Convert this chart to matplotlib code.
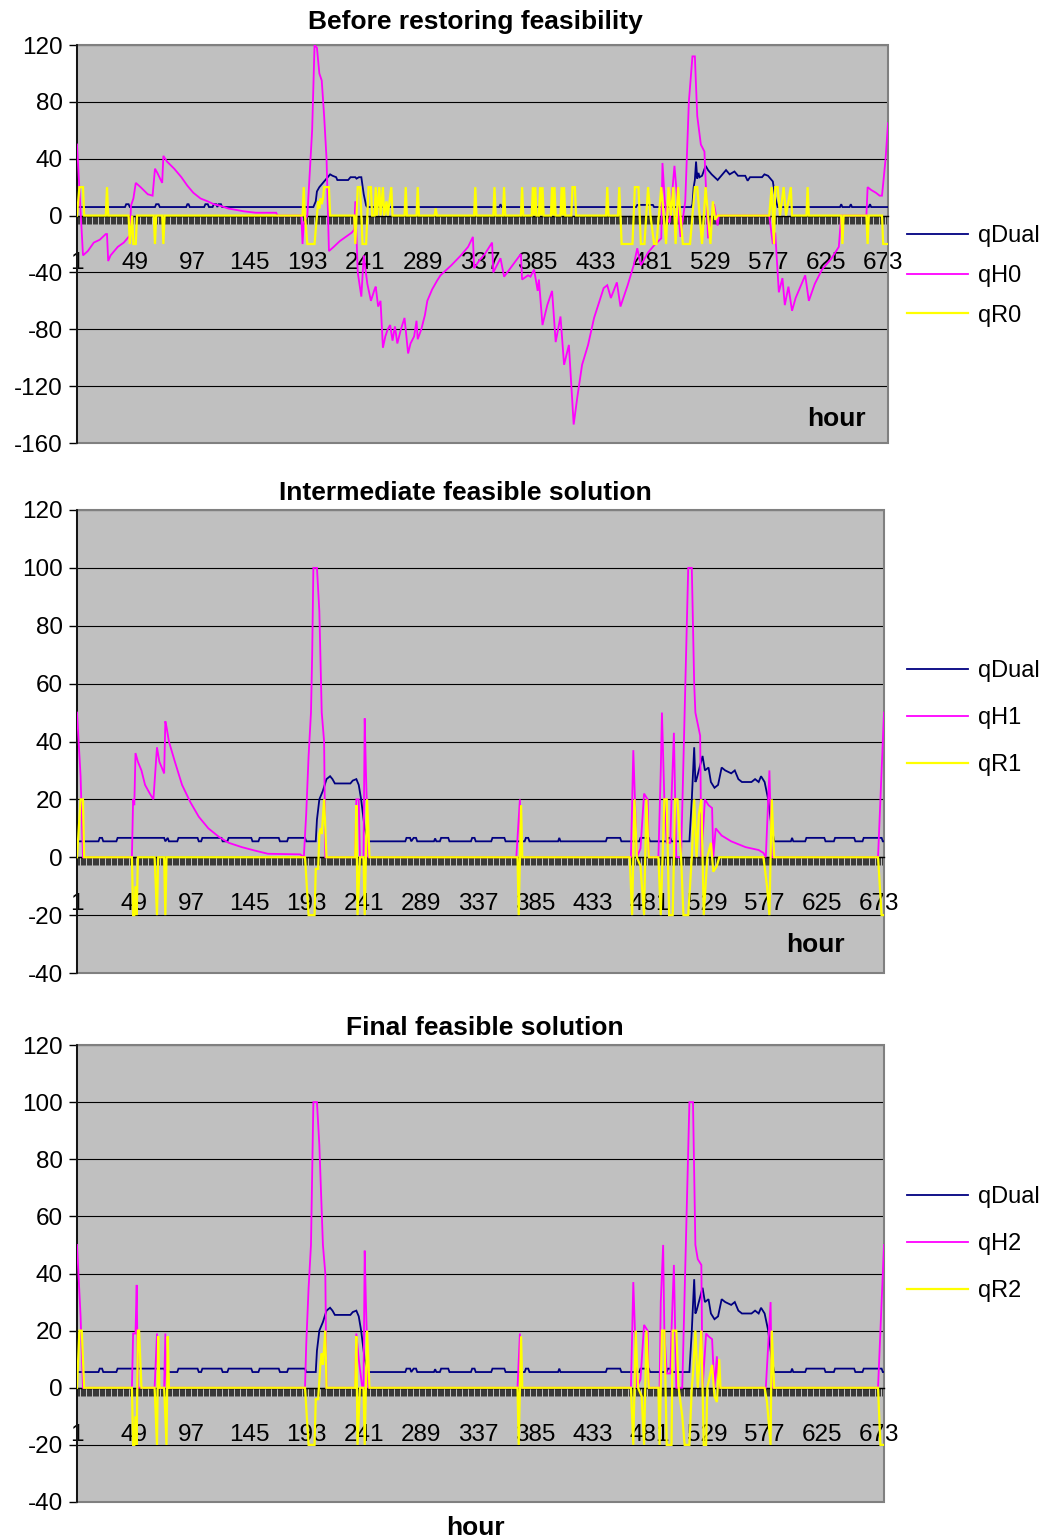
import numpy as np
import matplotlib.pyplot as plt
from matplotlib.patches import Rectangle
from matplotlib.ticker import MultipleLocator

plt.rcParams['font.family'] = ['Liberation Sans', 'DejaVu Sans']
plt.rcParams['axes.unicode_minus'] = False

# hour tick labels on the category axis
hour_ticks = [1, 49, 97, 145, 193, 241, 289, 337, 385, 433, 481, 529, 577, 625, 673]
hour_labels = [str(h) for h in hour_ticks]

titles = ['Before restoring feasibility', 'Intermediate feasible solution', 'Final feasible solution']
legend_names = [['qDual', 'qH0', 'qR0'], ['qDual', 'qH1', 'qR1'], ['qDual', 'qH2', 'qR2']]

# (hour, value) breakpoints
dual1 = [(1, 6), (41, 6), (42, 8), (44, 8), (45, 6), (66, 6), (67, 8), (69, 8), (70, 6), (92, 6), (93, 8),
         (94, 8), (95, 6), (107, 6), (108, 8), (110, 8), (111, 6), (114, 6), (115, 8), (117, 8), (118, 6),
         (119, 8), (121, 8), (122, 6), (198, 6), (200, 10), (201, 17), (203, 20), (206, 23), (208, 25),
         (210, 27), (212, 29), (214, 28), (217, 27), (218, 25), (227, 25), (229, 27), (233, 27), (234, 26),
         (236, 27), (238, 27), (240, 15), (242, 7), (243, 6), (353, 6), (354, 8), (355, 6), (467, 6),
         (468, 7.5), (481, 7.5), (482, 6), (513, 6), (514, 8), (515, 20), (516, 25), (517, 38), (518, 26),
         (519, 30), (520, 27), (522, 28), (525, 35), (527, 32), (530, 29), (535, 25), (538, 28), (542, 32),
         (545, 29), (549, 31), (552, 28), (558, 28), (560, 24.5), (562, 27), (572, 27), (574, 29), (577, 28),
         (581, 24), (583, 13), (585, 6), (637, 6), (638, 8), (639, 6), (645, 6), (646, 8), (647, 6),
         (661, 6), (662, 8), (663, 6), (677, 6)]

h0 = [(1, 50), (6, -28), (10, -25), (15, -19), (20, -17), (25, -13), (26, -13), (27, -32), (29, -28),
      (35, -22), (40, -19), (44, -15), (45, -14), (46, 7), (48, 12), (50, 23), (54, 20), (60, 15), (64, 14),
      (66, 33), (68, 30), (72, 23), (73, 42), (76, 38), (82, 33), (88, 27), (93, 21), (98, 16), (104, 12),
      (110, 10), (115, 8), (120, 7), (127, 5), (140, 3), (150, 2), (167, 2), (168, 0), (188, 0), (189, -20),
      (190, -5), (193, 0), (195, 30), (197, 60), (199, 120), (201, 118), (203, 100), (205, 95), (207, 70),
      (209, 40), (211, -25), (215, -22), (220, -18), (225, -15), (230, -12), (232, -10), (233, 10),
      (235, -40), (238, -57), (240, -28), (243, -48), (246, -60), (249, -52), (250, -50), (252, -64),
      (254, -60), (256, -93), (258, -85), (260, -80), (262, -77), (264, -88), (266, -78), (268, -90),
      (271, -80), (274, -72), (277, -97), (279, -90), (282, -85), (284, -74), (285, -87), (288, -80),
      (291, -70), (293, -60), (297, -52), (301, -46), (304, -42), (313, -35), (321, -28), (327, -22),
      (331, -15), (332, -37), (336, -32), (341, -27), (347, -19), (348, -40), (354, -30), (357, -43),
      (364, -35), (371, -27), (372, -45), (377, -42), (379, -43), (382, -38), (385, -53), (386, -45),
      (389, -77), (393, -63), (397, -53), (400, -89), (404, -71), (407, -105), (411, -91), (415, -147),
      (418, -128), (422, -105), (427, -91), (432, -72), (440, -51), (443, -49), (446, -58), (451, -47),
      (454, -64), (460, -49), (465, -35), (468, -23), (471, -35), (477, -26), (482, -21), (488, -16),
      (489, 37), (491, 10), (493, -2), (495, -5), (499, 35), (502, 5), (504, -15), (508, 10), (511, 80),
      (514, 112), (516, 112), (518, 70), (521, 50), (524, 45), (527, -16), (529, -5), (532, 8), (535, -7),
      (536, 0), (578, 0), (581, -20), (583, -12), (586, -54), (589, -44), (591, -63), (594, -50),
      (597, -67), (600, -58), (603, -52), (608, -42), (611, -60), (616, -48), (622, -38), (630, -30),
      (636, -22), (638, 0), (659, 0), (660, 20), (663, 18), (667, 16), (670, 14), (672, 14), (675, 40),
      (677, 65)]

r0 = [(1, 0), (3, 20), (6, 20), (7, 0), (25, 0), (26, 20), (27, 0), (44, 0), (45, -20), (47, 0), (48, -20),
      (50, -20), (51, 0), (65, 0), (66, -20), (67, 0), (72, 0), (73, -20), (74, 0), (189, 0), (190, 20),
      (191, 0), (193, -20), (199, -20), (201, 0), (202, 10), (203, 5), (204, 12), (205, 8), (206, 12),
      (207, 20), (211, 20), (212, 0), (232, 0), (233, -20), (235, 20), (237, 20), (239, -20), (242, -20),
      (244, 20), (246, 20), (247, 0), (249, 0), (250, 20), (251, 0), (253, 20), (254, 0), (256, 20),
      (257, 0), (259, 10), (260, 0), (263, 20), (264, 0), (274, 0), (275, 20), (276, 0), (284, 0),
      (285, 20), (286, 0), (299, 0), (300, 5), (301, 0), (332, 0), (333, 20), (334, 0), (348, 0),
      (349, 20), (350, 0), (356, 0), (357, 20), (358, 0), (371, 0), (372, 20), (373, 0), (380, 0),
      (381, 20), (382, 0), (383, 20), (384, 0), (386, 0), (387, 20), (388, 0), (389, 20), (390, 0),
      (396, 0), (397, 20), (398, 0), (399, 20), (400, 0), (404, 0), (405, 20), (406, 0), (407, 20),
      (408, 0), (413, 0), (414, 20), (416, 20), (417, 0), (442, 0), (443, 20), (444, 0), (452, 0),
      (453, 20), (455, -20), (464, -20), (466, 20), (469, 20), (471, -20), (474, -20), (477, 20), (479, 0),
      (482, -20), (484, -20), (488, 20), (490, 0), (492, -20), (494, 20), (496, 0), (498, 20), (500, -20),
      (502, 20), (504, 0), (506, -20), (512, -20), (514, 0), (516, 20), (518, 20), (520, 0), (522, -20),
      (525, 20), (527, 0), (529, -20), (531, 10), (533, -3), (535, 0), (578, 0), (580, 20), (582, -20),
      (583, 20), (585, 20), (587, 0), (590, 20), (592, 0), (596, 20), (597, 0), (609, 0), (610, 20),
      (611, 0), (638, 0), (639, -20), (640, 0), (659, 0), (660, -20), (661, 0), (672, 0), (673, -20),
      (677, -20)]

dual23 = [(1, 5.5), (19, 5.5), (20, 6.7), (22, 6.7), (23, 5.5), (34, 5.5), (35, 6.7), (74, 6.7), (75, 5.5),
          (77, 6.7), (78, 5.5), (85, 5.5), (86, 6.7), (102, 6.7), (103, 5.5), (105, 5.5), (106, 6.7),
          (122, 6.7), (123, 5.5), (127, 5.5), (128, 6.7), (147, 6.7), (148, 5.5), (153, 5.5), (154, 6.7),
          (170, 6.7), (171, 5.5), (177, 5.5), (178, 6.7), (192, 6.7), (193, 5.5), (201, 5.5), (202, 13),
          (204, 20), (207, 23), (210, 27), (213, 28), (215, 27), (217, 25.5), (230, 25.5), (232, 26.5),
          (235, 27), (237, 25), (239, 20), (242, 10), (245, 5.5), (276, 5.5), (277, 6.7), (280, 6.7),
          (281, 5.5), (283, 6.7), (285, 6.7), (286, 5.5), (300, 5.5), (301, 6.5), (302, 5.5), (305, 5.5),
          (306, 6.7), (312, 6.7), (313, 5.5), (331, 5.5), (332, 6.7), (334, 6.7), (335, 5.5), (348, 5.5),
          (349, 6.7), (359, 6.7), (360, 5.5), (376, 5.5), (377, 6.7), (379, 6.7), (380, 5.5), (404, 5.5),
          (405, 6.7), (406, 5.5), (444, 5.5), (445, 6.7), (456, 6.7), (457, 5.5), (472, 5.5), (473, 6.7),
          (480, 6.7), (481, 5.5), (495, 5.5), (496, 6.7), (498, 6.7), (499, 5.5), (514, 5.5), (516, 20),
          (518, 38), (519, 26), (520, 27), (525, 35), (527, 30), (530, 31), (532, 26), (535, 24), (538, 25),
          (541, 31), (544, 30), (549, 29), (552, 30), (555, 27), (558, 26), (566, 26), (569, 27), (572, 26),
          (574, 28), (577, 26), (580, 20), (583, 10), (585, 5.5), (599, 5.5), (600, 6.7), (601, 5.5),
          (611, 5.5), (612, 6.7), (627, 6.7), (628, 5.5), (635, 5.5), (636, 6.7), (652, 6.7), (653, 5.5),
          (659, 5.5), (660, 6.7), (675, 6.7), (676, 5.5), (677, 5.5)]

h1 = [(1, 50), (4, 28), (6, 0), (47, 0), (48, 20), (49, 18), (50, 36), (52, 33), (55, 30), (58, 25),
      (62, 22), (65, 20), (68, 38), (70, 33), (73, 30), (74, 29), (75, 47), (76, 45), (78, 40), (83, 33),
      (89, 25), (96, 19), (103, 14), (111, 10), (120, 7), (128, 5), (139, 3.5), (150, 2.3), (161, 1.2),
      (188, 1), (191, 0), (193, 15), (195, 35), (197, 50), (198, 70), (199, 100), (202, 100), (204, 85),
      (206, 50), (208, 40), (209, 0), (234, 0), (235, 20), (237, 20), (238, 0), (241, 0), (242, 48),
      (243, 30), (245, 0), (369, 0), (372, 20), (373, 0), (465, 0), (467, 37), (470, 0), (473, 3),
      (476, 22), (479, 20), (480, 0), (488, 0), (490, 30), (491, 50), (493, 20), (495, 5), (498, 5),
      (499, 20), (501, 43), (503, 0), (507, 0), (510, 50), (513, 100), (516, 100), (518, 60), (519, 50),
      (521, 46), (523, 42), (524, 0), (527, 20), (530, 18), (533, 17), (534, 0), (536, 10), (538, 9),
      (541, 7.5), (549, 5.5), (555, 4.5), (561, 3.5), (572, 2.5), (576, 1.5), (578, 0), (581, 30),
      (583, 0), (672, 0), (677, 50)]

r1 = [(1, 0), (4, 20), (6, 20), (7, 0), (47, 0), (48, -20), (49, -20), (50, -10), (51, -20), (52, 0),
      (66, 0), (68, -20), (69, 0), (74, 0), (75, -20), (76, 0), (192, 0), (195, -20), (200, -20), (201, -4),
      (203, -4), (204, 8), (205, 10), (206, 8), (208, 20), (210, 0), (234, 0), (235, 18), (236, -20),
      (238, 0), (241, 0), (242, -20), (244, 20), (246, 0), (370, 0), (371, -20), (373, 18), (374, 0),
      (464, 0), (466, -20), (468, 20), (470, 0), (473, -3), (476, -20), (478, 20), (480, 0), (488, 0),
      (490, -20), (493, 20), (495, 20), (497, -20), (500, -20), (502, 20), (504, 20), (507, 0), (509, -20),
      (513, -20), (516, 0), (518, 20), (520, 0), (522, 15), (524, 20), (526, -20), (529, 0), (532, 5),
      (534, -5), (537, -3), (539, 0), (576, 0), (579, -10), (581, -20), (583, 20), (585, 0), (672, 0),
      (675, -20), (677, -20)]

h2 = [(1, 50), (4, 25), (6, 0), (47, 0), (48, 19), (50, 19), (51, 36), (52, 0), (66, 0), (68, 19), (69, 0),
      (74, 0), (75, 19), (76, 0), (192, 0), (193, 15), (195, 35), (197, 50), (199, 100), (202, 100),
      (204, 85), (207, 50), (209, 40), (210, 0), (234, 0), (235, 19), (237, 10), (240, 0), (241, 0),
      (242, 48), (243, 30), (245, 0), (370, 0), (372, 19), (373, 0), (465, 0), (467, 37), (470, 0),
      (473, 3), (476, 22), (479, 20), (480, 0), (489, 0), (490, 30), (492, 50), (493, 20), (495, 5),
      (498, 5), (499, 20), (501, 43), (503, 0), (508, 0), (511, 50), (514, 100), (517, 100), (519, 50),
      (521, 45), (524, 43), (525, 0), (528, 19), (530, 18), (533, 17), (534, 8), (535, 0), (537, 11),
      (538, 0), (578, 0), (582, 30), (583, 0), (672, 0), (677, 50)]

r2 = [(1, 0), (3, 20), (5, 20), (7, 0), (47, 0), (48, -20), (49, -20), (50, -10), (51, -20), (52, 20),
      (53, 20), (55, 0), (66, 0), (68, -20), (69, 18), (70, 0), (74, 0), (76, -20), (77, 18), (78, 0),
      (192, 0), (195, -20), (200, -20), (201, -4), (203, -4), (205, 9), (206, 12), (207, 8), (209, 20),
      (210, 0), (234, 0), (235, 18), (236, -20), (238, 0), (241, 0), (242, -20), (244, 20), (246, 0),
      (370, 0), (371, -20), (373, 18), (374, 0), (465, 0), (467, -20), (469, 20), (471, 0), (474, -3),
      (476, -20), (478, 20), (480, 0), (488, 0), (489, -20), (491, 20), (493, 20), (495, -20), (499, -20),
      (500, 20), (503, 20), (505, 0), (508, -10), (510, -20), (514, -20), (516, 0), (517, 5), (519, 20),
      (521, 0), (524, 20), (526, -20), (528, -20), (529, 0), (533, 8), (535, -3), (537, -5), (539, 10),
      (540, 0), (577, 0), (579, -5), (582, -20), (583, 20), (585, 0), (672, 0), (674, -20), (677, -20)]

W, H = 1052, 1540
fig = plt.figure(figsize=(W / 100, H / 100), dpi=100)


def rect(l, t, r, b):
    return [l / W, 1 - b / H, (r - l) / W, (b - t) / H]


panels = [
    dict(box=(77, 45, 888, 443), ylim=(-160, 120), step=40, series=(dual1, h0, r0),
         title_xy=(475, 22), hour_xy=(836, 419), leg_xy=(907, 276)),
    dict(box=(77, 510, 884, 973), ylim=(-40, 120), step=20, series=(dual23, h1, r1),
         title_xy=(465, 493), hour_xy=(815, 945), leg_xy=(907, 718)),
    dict(box=(77, 1045, 884, 1502), ylim=(-40, 120), step=20, series=(dual23, h2, r2),
         title_xy=(485, 1028), hour_xy=(475, 1528), leg_xy=(907, 1244)),
]
colors = ['#000080', '#FF00FF', '#FFFF00']
widths = [1.3, 1.3, 1.6]

for i, p in enumerate(panels):
    ax = fig.add_axes(rect(*p['box']))
    ax.set_facecolor('#C0C0C0')
    ax.set_xlim(1, 677)
    ax.set_ylim(*p['ylim'])
    ax.set_yticks(np.arange(p['ylim'][0], p['ylim'][1] + 1, p['step']))
    ax.yaxis.grid(True, color='black', lw=0.8)
    ax.set_axisbelow(True)

    handles = []
    for data, c, lw in zip(p['series'], colors, widths):
        hrs, vals = zip(*data)
        ln, = ax.plot(hrs, vals, color=c, lw=lw, zorder=3, solid_joinstyle='miter')
        handles.append(ln)

    for s in ('top', 'right'):
        ax.spines[s].set_visible(False)
    ax.spines['left'].set_color('black')
    ax.spines['left'].set_linewidth(1.2)
    ax.spines['bottom'].set_position(('data', 0))
    ax.spines['bottom'].set_color('black')
    ax.spines['bottom'].set_linewidth(1.0)
    ax.add_patch(Rectangle((0, 0), 1, 1, transform=ax.transAxes, fill=False,
                           ec='#808080', lw=1.5, clip_on=False, zorder=1))

    ax.set_xticks(hour_ticks)
    ax.set_xticklabels(hour_labels)
    ax.xaxis.set_minor_locator(MultipleLocator(1))
    ax.tick_params(axis='x', which='both', direction='out', length=6, width=0.5, color='black')
    ax.tick_params(axis='x', which='major', pad=20, labelsize=17.5)
    ax.tick_params(axis='y', direction='out', length=6, width=1, pad=4, labelsize=17.5)

    fig.text(p['title_xy'][0] / W, 1 - p['title_xy'][1] / H, titles[i], ha='center', va='center',
             fontsize=19, fontweight='bold')
    fig.text(p['hour_xy'][0] / W, 1 - p['hour_xy'][1] / H, 'hour', ha='center', va='center',
             fontsize=19, fontweight='bold')

    ax.legend(handles, legend_names[i], loc='center left',
              bbox_to_anchor=(p['leg_xy'][0] / W, 1 - p['leg_xy'][1] / H),
              bbox_transform=fig.transFigure, frameon=False, fontsize=17, borderpad=0,
              borderaxespad=0, handlelength=2.6, handletextpad=0.4,
              labelspacing=0.75 if i == 0 else 1.05)

fig.savefig('out.png', dpi=100)
